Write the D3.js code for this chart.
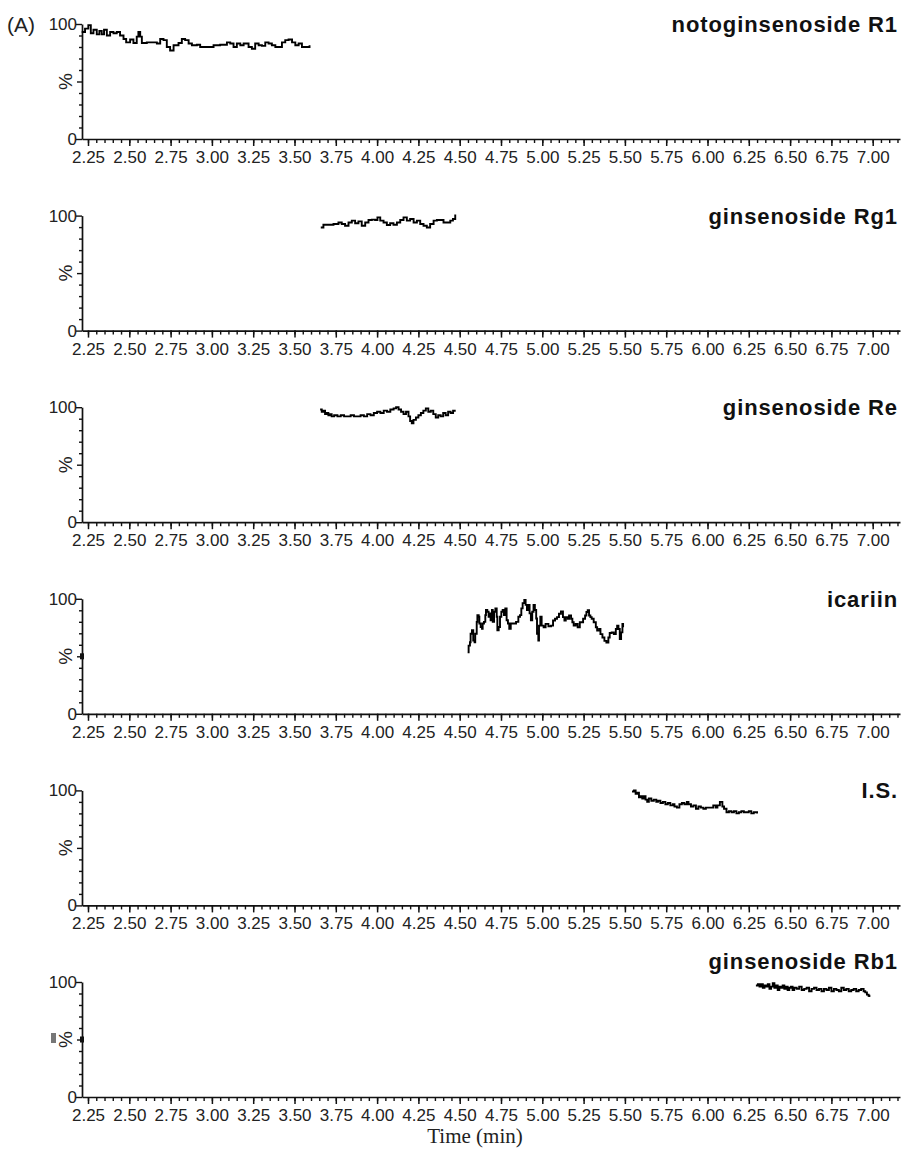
<!DOCTYPE html>
<html>
<head>
<meta charset="utf-8">
<script src="https://cdn.jsdelivr.net/npm/d3@7"></script>
<style>
  html, body { margin: 0; padding: 0; background: #fff; }
  svg { display: block; }
</style>
</head>
<body>
<svg id="chart" width="902" height="1159"></svg>
<script>
// Compound names, one per chromatogram panel
const compounds = ["notoginsenoside R1", "ginsenoside Rg1", "ginsenoside Re", "icariin", "I.S.", "ginsenoside Rb1"];

// Major time ticks (min)
const timeTicks = [2.25, 2.50, 2.75, 3.00, 3.25, 3.50, 3.75, 4.00, 4.25, 4.50, 4.75, 5.00, 5.25, 5.50, 5.75, 6.00, 6.25, 6.50, 6.75, 7.00];
const yTickLabels = [0, 100];

// Relative response traces: [time (min), %]
const traceR1 = [
  [2.212,93],[2.232,96],[2.252,99],[2.267,92],[2.283,95],[2.303,91],[2.319,94],[2.333,91],[2.347,95],[2.364,90],
  [2.384,93],[2.404,92],[2.424,93],[2.444,90],[2.465,87],[2.481,84],[2.505,86.5],[2.525,83.5],[2.545,89],[2.555,93],
  [2.566,89],[2.576,83.5],[2.606,84],[2.646,84],[2.667,83],[2.687,87],[2.707,86],[2.727,80],[2.747,77],[2.768,81.5],
  [2.798,83.5],[2.818,87],[2.838,86],[2.859,83],[2.879,81.5],[2.909,82],[2.929,80],[2.959,80],[2.990,80],[3.010,81.5],
  [3.050,82],[3.091,84],[3.111,83],[3.131,80],[3.151,83],[3.172,81.5],[3.192,83],[3.222,80],[3.242,78.5],[3.262,83],
  [3.283,81.5],[3.303,81],[3.323,84],[3.343,83],[3.363,81.5],[3.384,80],[3.404,80],[3.424,84],[3.444,86],[3.464,86.5],
  [3.485,84],[3.505,81.5],[3.525,83],[3.545,80],[3.565,80],[3.591,81.5]
];
const traceRg1 = [
  [3.659,89.7],[3.675,92],[3.736,92.7],[3.766,94],[3.786,92.7],[3.806,91.2],[3.827,94],[3.847,95.6],[3.867,93.3],[3.887,95],
  [3.907,91.2],[3.928,94],[3.948,96.2],[3.968,96.5],[3.988,96.2],[4.002,98.5],[4.019,95.6],[4.039,94],[4.059,91.8],[4.079,93.3],
  [4.099,92],[4.120,94],[4.140,96.2],[4.160,98.5],[4.180,95.6],[4.200,97],[4.221,94],[4.241,95.6],[4.261,92.7],[4.281,91.2],
  [4.301,89.7],[4.321,92.7],[4.342,95.6],[4.362,96.2],[4.382,96.2],[4.402,94],[4.422,94],[4.443,95.6],[4.459,97],[4.473,100.9]
];
const traceRe = [
  [3.655,98],[3.665,96],[3.675,97],[3.685,94],[3.695,95],[3.705,93],[3.715,94],[3.725,92],[3.740,93],[3.760,92],
  [3.780,93],[3.800,92],[3.820,92],[3.840,93],[3.860,92],[3.880,92],[3.900,93],[3.920,92],[3.940,94],[3.960,93],
  [3.980,95],[4.000,96],[4.020,95],[4.040,97],[4.060,96],[4.080,98],[4.100,99],[4.115,100],[4.130,98],[4.145,96],
  [4.160,94],[4.175,96],[4.190,92],[4.200,88],[4.210,86],[4.220,89],[4.235,91],[4.250,93],[4.265,95],[4.280,97],
  [4.295,99],[4.310,96],[4.325,97],[4.340,94],[4.355,91],[4.370,93],[4.385,92],[4.400,95],[4.415,93],[4.430,96],
  [4.445,95],[4.460,97],[4.470,96]
];
const traceIcariin = [
  [4.548,53.4],[4.554,59.3],[4.562,62.2],[4.566,69.6],[4.574,72.6],[4.582,63.7],[4.590,62.2],[4.594,69.6],[4.603,79.9],[4.607,85.8],
  [4.615,84.4],[4.619,78.5],[4.627,75.5],[4.635,74.0],[4.639,78.5],[4.647,79.9],[4.655,85.8],[4.659,90.3],[4.667,88.8],[4.675,84.4],
  [4.683,87.3],[4.687,81.4],[4.695,90.3],[4.700,79.9],[4.708,88.8],[4.716,91.7],[4.724,84.4],[4.728,72.6],[4.736,75.5],[4.744,84.4],
  [4.752,88.8],[4.760,90.3],[4.768,85.8],[4.776,91.7],[4.784,81.4],[4.792,78.5],[4.800,74.0],[4.809,78.5],[4.825,78.5],[4.841,79.9],
  [4.855,84.4],[4.865,85.8],[4.873,91.7],[4.881,96.2],[4.891,99.1],[4.899,94.7],[4.907,90.3],[4.915,94.7],[4.923,87.3],[4.931,81.4],
  [4.939,88.8],[4.947,94.7],[4.955,90.3],[4.963,82.9],[4.968,69.6],[4.976,63.7],[4.980,76.7],[4.988,84.4],[4.996,76.7],[5.008,75.2],
  [5.020,78.2],[5.037,76.1],[5.053,76.7],[5.065,81.1],[5.077,82.6],[5.089,84.1],[5.101,87.0],[5.113,89.1],[5.125,84.1],[5.134,81.1],
  [5.142,84.1],[5.154,82.6],[5.162,85.5],[5.174,82.6],[5.182,79.6],[5.190,76.7],[5.202,78.2],[5.214,75.2],[5.227,79.6],[5.235,79.6],
  [5.247,82.6],[5.259,85.5],[5.267,88.5],[5.275,90.0],[5.283,85.5],[5.291,84.1],[5.299,82.6],[5.311,79.6],[5.324,75.2],[5.332,72.3],
  [5.344,73.7],[5.352,69.3],[5.364,66.4],[5.376,63.4],[5.388,62.0],[5.400,66.4],[5.408,70.2],[5.420,70.8],[5.433,69.3],[5.445,73.7],
  [5.453,76.7],[5.461,73.7],[5.469,64.9],[5.477,70.8],[5.485,78.2],[5.489,75.2]
];
const traceIS = [
  [5.543,99],[5.555,100],[5.565,97],[5.575,98],[5.585,94],[5.595,95],[5.605,93],[5.615,95],[5.625,92],[5.635,90],
  [5.645,93],[5.660,91],[5.675,92],[5.690,90],[5.700,91],[5.715,89],[5.730,90],[5.745,88],[5.760,89],[5.775,87],
  [5.790,88],[5.800,86],[5.815,85],[5.830,88],[5.845,89],[5.860,88],[5.875,90],[5.885,88],[5.900,86],[5.915,87],
  [5.930,84],[5.945,86],[5.960,85],[5.975,84],[5.990,85],[6.005,85],[6.020,85],[6.035,87],[6.050,85],[6.060,87],
  [6.075,90],[6.090,86],[6.100,84],[6.115,81],[6.130,82],[6.145,81],[6.160,82],[6.175,80],[6.190,81],[6.205,82],
  [6.220,81],[6.235,81],[6.250,82],[6.265,80],[6.280,81],[6.290,81],[6.300,80]
];
const traceRb1 = [
  [6.293,97],[6.305,98],[6.315,96],[6.325,98],[6.335,95],[6.345,97],[6.355,96],[6.365,98],[6.375,94],[6.385,96],
  [6.395,99],[6.405,95],[6.415,97],[6.425,93],[6.435,96],[6.445,95],[6.455,97],[6.465,94],[6.475,96],[6.485,93],
  [6.495,95],[6.505,96],[6.515,93],[6.525,95],[6.540,94],[6.555,96],[6.570,93],[6.585,94],[6.600,95],[6.615,92],
  [6.630,94],[6.645,95],[6.660,93],[6.675,94],[6.690,92],[6.705,94],[6.720,93],[6.735,95],[6.750,92],[6.765,94],
  [6.780,93],[6.795,92],[6.810,95],[6.825,93],[6.840,94],[6.855,92],[6.870,93],[6.885,94],[6.900,92],[6.915,93],
  [6.930,94],[6.945,92],[6.955,91],[6.965,89],[6.975,88],[6.980,87]
];
const traces = [traceR1, traceRg1, traceRe, traceIcariin, traceIS, traceRb1];

const svg = d3.select("#chart");
const ink = "#111";
const sans = "'Liberation Sans', Arial, sans-serif";

// Layout: six stacked panels sharing one time scale
const axisLeftX = 82, axisRightX = 900;
const firstTop = 24, panelStep = 191.6, panelH = 115;

const x = d3.scaleLinear()
  .domain([2.25 - (88 - axisLeftX) / 165.2, 2.25 + (axisRightX - 88) / 165.2])
  .range([axisLeftX, axisRightX]);

const minorTicks = d3.range(2.25, 7.16, 0.05).map(v => +v.toFixed(2));
const yMinor = d3.range(0, 101, 10);

const line = d3.line().curve(d3.curveStepAfter);

compounds.forEach((name, i) => {
  const top = firstTop + i * panelStep;
  const y0 = top + panelH;
  const y = d3.scaleLinear().domain([0, 100]).range([y0, top]);
  const g = svg.append("g");

  // x axis: minor ticks
  g.append("g")
    .attr("transform", `translate(0,${y0})`)
    .call(d3.axisBottom(x).tickValues(minorTicks).tickSize(4).tickFormat("").tickSizeOuter(0))
    .call(s => s.select(".domain").remove())
    .call(s => s.selectAll("line").attr("stroke", ink).attr("stroke-width", 1.4));

  // x axis: major ticks and labels
  g.append("g")
    .attr("transform", `translate(0,${y0})`)
    .call(d3.axisBottom(x).tickValues(timeTicks).tickSize(7).tickPadding(5).tickFormat(d3.format(".2f")).tickSizeOuter(0))
    .call(s => s.select(".domain").attr("stroke", ink).attr("stroke-width", 1.7))
    .call(s => s.selectAll("line").attr("stroke", ink).attr("stroke-width", 1.5))
    .call(s => s.selectAll("text").attr("fill", "#222").attr("font-size", 17).attr("font-family", sans));

  // y axis
  g.append("g")
    .attr("transform", `translate(${axisLeftX},0)`)
    .call(d3.axisLeft(y).tickValues(yMinor).tickSize(3).tickPadding(2)
      .tickFormat(d => yTickLabels.includes(d) ? d : "").tickSizeOuter(0))
    .call(s => s.select(".domain").attr("stroke", ink).attr("stroke-width", 1.7))
    .call(s => s.selectAll(".tick line").attr("stroke", ink).attr("stroke-width", 1.4)
      .attr("x2", d => (d === 0 || d === 100) ? -6 : (d === 50 ? -5 : -3)))
    .call(s => s.selectAll("text").attr("fill", "#222").attr("font-size", 17)
      .attr("font-family", sans).attr("x", -5));

  // y axis title
  g.append("text")
    .attr("transform", `translate(72,${y(50)}) rotate(-90)`)
    .attr("text-anchor", "middle")
    .attr("font-family", sans)
    .attr("font-size", 19)
    .attr("fill", "#222")
    .text("%");

  // trace
  g.append("path")
    .attr("d", line(traces[i].map(d => [x(d[0]), y(d[1])])))
    .attr("fill", "none")
    .attr("stroke", "#000")
    .attr("stroke-width", 1.9)
    .attr("stroke-linejoin", "miter");

  // compound name
  const labelY = i === 5 ? y(100) - 13 : y(100) + 8;
  g.append("text")
    .attr("x", 898)
    .attr("y", labelY)
    .attr("text-anchor", "end")
    .attr("font-family", sans)
    .attr("font-weight", "bold")
    .attr("font-size", 22)
    .attr("letter-spacing", 0.9)
    .attr("fill", "#111")
    .text(name);

  // small blot on the axis at mid-height (icariin and Rb1 panels)
  if (i === 3 || i === 5) {
    g.append("rect").attr("x", axisLeftX - 2).attr("y", y(50) - 3)
      .attr("width", 4).attr("height", 6).attr("fill", ink);
  }
});

// Panel tag
svg.append("text")
  .attr("x", 7).attr("y", 32)
  .attr("font-family", sans)
  .attr("font-size", 21).attr("fill", "#222")
  .text("(A)");

// Grey marker beside the last panel's axis title
svg.append("rect").attr("x", 51).attr("y", 1033).attr("width", 5).attr("height", 10).attr("fill", "#777");

// Shared x axis title
svg.append("text")
  .attr("x", 475).attr("y", 1143)
  .attr("text-anchor", "middle")
  .attr("font-family", "'Liberation Serif', 'Times New Roman', serif")
  .attr("font-size", 21).attr("fill", "#222")
  .text("Time (min)");
</script>
</body>
</html>
